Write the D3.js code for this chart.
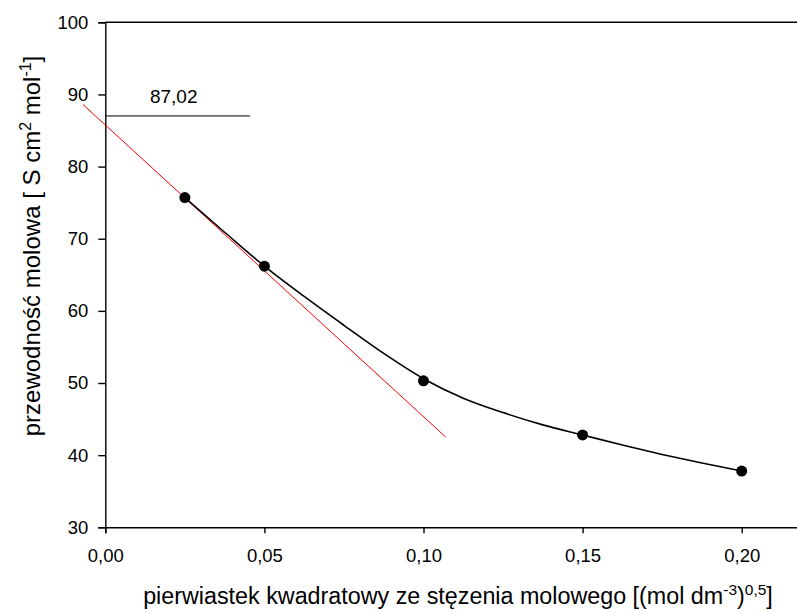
<!DOCTYPE html>
<html>
<head>
<meta charset="utf-8">
<script src="https://cdn.jsdelivr.net/npm/d3@7"></script>
<style>
  html, body { margin: 0; padding: 0; background: #fff; }
  svg { display: block; font-family: "Liberation Sans", Arial, sans-serif; }
</style>
</head>
<body>
<svg id="chart" width="797" height="613"></svg>
<script>
// Molar conductivity vs. square root of molar concentration
const sqrtConc = [0.025, 0.05, 0.10, 0.15, 0.20];
const molarCond = [75.7, 66.2, 50.3, 42.8, 37.8];

// Smoothed trend curve, sampled along the measured range
const curveX = [0.025, 0.0375, 0.05, 0.0625, 0.075, 0.0875, 0.10, 0.1125, 0.125, 0.1375, 0.15, 0.1625, 0.175, 0.1875, 0.20];
const curveY = [75.7, 70.9, 66.2, 62.0, 58.0, 54.1, 50.6, 47.9, 45.9, 44.2, 42.8, 41.4, 40.1, 38.9, 37.8];

// Limiting-slope line (red) drawn between its two end points
const tangentX = [-0.007, 0.107];
const tangentY = [88.6, 42.5];

// Extrapolated limiting conductivity marker
const limitValue = 87.02;
const limitLabel = "87,02";
const limitLineX = [0, 0.0455];

const xTicks = [0, 0.05, 0.10, 0.15, 0.20];
const yTicks = [30, 40, 50, 60, 70, 80, 90, 100];

const svg = d3.select("#chart");

const x = d3.scaleLinear().domain([0, 0.22]).range([105.3, 105.3 + 0.22 * 3182]);
const y = d3.scaleLinear().domain([30, 100]).range([527.3, 22.3]);

const fmtX = v => d3.format(".2f")(v).replace(".", ",");

// Frame: top border line
svg.append("line")
  .attr("x1", x(0)).attr("x2", x(0.22))
  .attr("y1", y(100)).attr("y2", y(100))
  .attr("stroke", "#000").attr("stroke-width", 1.4);

// Y axis
const yAxis = svg.append("g")
  .attr("transform", `translate(${x(0)},0)`)
  .call(d3.axisLeft(y).tickValues(yTicks).tickSize(7).tickPadding(10).tickFormat(d3.format("d")));
yAxis.select(".domain").attr("stroke-width", 1.4);
yAxis.selectAll(".tick line").attr("stroke-width", 1.4);
yAxis.selectAll(".tick text").attr("font-size", 18.5).attr("fill", "#000")
  .attr("font-family", "Liberation Sans, Arial, sans-serif");

// X axis
const xAxis = svg.append("g")
  .attr("transform", `translate(0,${y(30)})`)
  .call(d3.axisBottom(x).tickValues(xTicks).tickSize(6).tickPadding(16).tickFormat(fmtX));
xAxis.select(".domain").attr("stroke-width", 1.4);
xAxis.selectAll(".tick line").attr("stroke-width", 1.4);
xAxis.selectAll(".tick text").attr("font-size", 18.5).attr("fill", "#000")
  .attr("font-family", "Liberation Sans, Arial, sans-serif");

// Horizontal marker line for the extrapolated value
svg.append("line")
  .attr("x1", x(limitLineX[0])).attr("x2", x(limitLineX[1]))
  .attr("y1", y(limitValue)).attr("y2", y(limitValue))
  .attr("stroke", "#000").attr("stroke-width", 1);

svg.append("text")
  .attr("x", (x(limitLineX[0]) + x(limitLineX[1])) / 2 - 4)
  .attr("y", y(limitValue) - 13)
  .attr("text-anchor", "middle")
  .attr("font-size", 19)
  .text(limitLabel);

// Red limiting-slope line
svg.append("line")
  .attr("x1", x(tangentX[0])).attr("y1", y(tangentY[0]))
  .attr("x2", x(tangentX[1])).attr("y2", y(tangentY[1]))
  .attr("stroke", "#ff0000").attr("stroke-width", 1);

// Trend curve
const curvePts = curveX.map((v, i) => [v, curveY[i]]);
svg.append("path")
  .datum(curvePts)
  .attr("fill", "none")
  .attr("stroke", "#000")
  .attr("stroke-width", 1.6)
  .attr("d", d3.line().x(d => x(d[0])).y(d => y(d[1])).curve(d3.curveMonotoneX));

// Measurement points
const pts = sqrtConc.map((v, i) => [v, molarCond[i]]);
svg.append("g").selectAll("circle")
  .data(pts)
  .join("circle")
  .attr("cx", d => x(d[0]))
  .attr("cy", d => y(d[1]))
  .attr("r", 5.5)
  .attr("fill", "#000");

// Axis titles
const xTitle = svg.append("text")
  .attr("x", 458).attr("y", 604)
  .attr("text-anchor", "middle")
  .attr("font-size", 23.3);
xTitle.append("tspan").text("pierwiastek kwadratowy ze stęzenia molowego [(mol dm");
xTitle.append("tspan").attr("font-size", 15.5).attr("dy", -9).text("-3");
xTitle.append("tspan").attr("dy", 9).text(")");
xTitle.append("tspan").attr("font-size", 15.5).attr("dy", -9).text("0,5");
xTitle.append("tspan").attr("dy", 9).text("]");

const yTitle = svg.append("text")
  .attr("transform", "translate(40,246) rotate(-90)")
  .attr("text-anchor", "middle")
  .attr("font-size", 24);
yTitle.append("tspan").text("przewodność molowa [ S cm");
yTitle.append("tspan").attr("font-size", 16).attr("dy", -9).text("2");
yTitle.append("tspan").attr("dy", 9).text(" mol");
yTitle.append("tspan").attr("font-size", 16).attr("dy", -9).text("-1");
yTitle.append("tspan").attr("dy", 9).text("]");
</script>
</body>
</html>
